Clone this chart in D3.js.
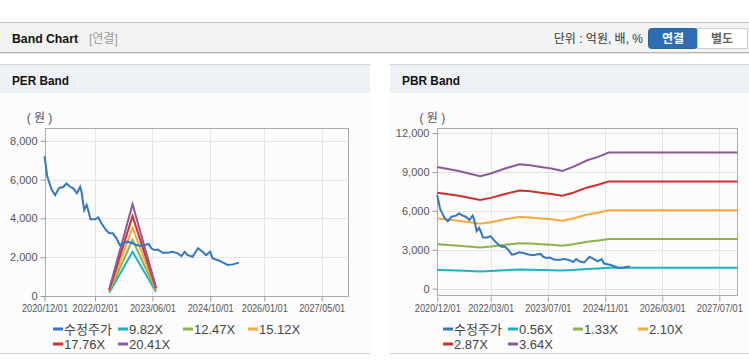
<!DOCTYPE html>
<html>
<head>
<meta charset="utf-8">
<script src="https://d3js.org/d3.v7.min.js"></script>
<style>
  body { margin: 0; background: #fff; }
  svg text { font-family: "Liberation Sans", "Noto Sans CJK KR", sans-serif; }
</style>
<title>Band Chart</title>
</head>
<body>
<script>
// price (수정주가), shared by both charts
var priceDates = ["2020-12-01","2020-12-25","2021-02-01","2021-03-01","2021-04-01","2021-05-10","2021-06-05","2021-07-05",
  "2021-08-01","2021-09-01","2021-09-28","2021-10-10","2021-11-01","2021-11-22","2021-12-05","2021-12-25","2022-02-01",
  "2022-03-01","2022-03-28","2022-05-05","2022-06-01","2022-07-01","2022-08-01","2022-08-28","2022-09-25","2022-10-28",
  "2022-12-05","2023-01-15","2023-02-28","2023-03-25","2023-05-01","2023-05-22","2023-06-20","2023-07-15","2023-08-28",
  "2023-10-10","2023-11-20","2024-01-01","2024-02-01","2024-02-28","2024-03-25","2024-05-05","2024-06-20","2024-07-28",
  "2024-08-28","2024-10-01","2024-10-22","2024-12-18","2025-02-25","2025-04-10","2025-06-01"];
var priceValues = [7210,6140,5460,5200,5550,5630,5800,5630,5550,5290,5630,5370,4430,4690,4430,3950,3950,
  4050,3740,3400,3230,3230,2970,2630,2680,2800,2750,2630,2580,2630,2680,2460,2370,2400,2230,2230,2280,
  2200,2060,2280,2110,2020,2460,2280,2110,2280,1940,1820,1600,1630,1720];

// PER band
var perDates = ["2022-06-01","2022-12-15","2023-07-01"];
var perNames = ["9.82X","12.47X","15.12X","17.76X","20.41X"];
var per982 = [167, 2278, 216];
var per1247 = [212, 2893, 274];
var per1512 = [257, 3508, 333];
var per1776 = [302, 4120, 391];
var per2041 = [347, 4735, 449];
var perYTicks = [0, 2000, 4000, 6000, 8000];
var perXTicks = ["2020/12/01","2022/02/01","2023/06/01","2024/10/01","2026/01/01","2027/05/01"];

// PBR band
var pbrDates = ["2020-12-01","2021-06-01","2021-12-01","2022-03-01","2022-07-01","2022-11-01","2023-02-01","2023-05-01",
  "2023-08-01","2023-11-01","2024-02-01","2024-06-01","2024-09-01","2024-12-01","2027-12-01"];
var pbrNames = ["0.56X","1.33X","2.10X","2.87X","3.64X"];
var pbr056 = [1444,1397,1334,1366,1425,1476,1464,1444,1425,1397,1444,1523,1562,1614,1614];
var pbr133 = [3429,3317,3168,3244,3385,3505,3477,3429,3385,3317,3429,3618,3711,3833,3833];
var pbr210 = [5414,5237,5002,5122,5345,5534,5489,5414,5345,5237,5414,5712,5859,6052,6052];
var pbr287 = [7399,7158,6836,7000,7304,7562,7502,7399,7304,7158,7399,7806,8007,8271,8271];
var pbr364 = [9384,9078,8670,8878,9264,9591,9515,9384,9264,9078,9384,9901,10156,10490,10490];
var pbrYTicks = [0, 3000, 6000, 9000, 12000];
var pbrXTicks = ["2020/12/01","2022/03/01","2023/07/01","2024/11/01","2026/03/01","2027/07/01"];

var bandColors = ["#1eb3c4", "#8cb24c", "#f3a93b", "#cf302c", "#8b5a9c"];
var priceColor = "#3677c4";

var parse = d3.timeParse("%Y-%m-%d");
var parseTick = d3.timeParse("%Y/%m/%d");

var svg = d3.select("body").append("svg")
    .attr("width", 749)
    .attr("height", 364);

// ---- page header ----
svg.append("rect").attr("x", 0).attr("y", 22).attr("width", 749).attr("height", 30).attr("fill", "#f3f3f3");
svg.append("line").attr("x1", 0).attr("x2", 749).attr("y1", 22.5).attr("y2", 22.5).attr("stroke", "#c4c4c4");
svg.append("line").attr("x1", 0).attr("x2", 749).attr("y1", 52.5).attr("y2", 52.5).attr("stroke", "#b8b8b8");
svg.append("line").attr("x1", 0).attr("x2", 749).attr("y1", 53.5).attr("y2", 53.5).attr("stroke", "#e2e2e2");
svg.append("text").attr("x", 12).attr("y", 42.5).text("Band Chart")
    .attr("font-size", "13px").attr("font-weight", "bold").attr("fill", "#111")
    .attr("textLength", 66).attr("lengthAdjust", "spacingAndGlyphs");
svg.append("text").attr("x", 89).attr("y", 42.5).text("[연결]")
    .attr("font-size", "12px").attr("fill", "#9a9a9a");
svg.append("text").attr("x", 643).attr("y", 42.5).attr("text-anchor", "end").text("단위 : 억원, 배, %")
    .attr("font-size", "12px").attr("fill", "#333");
svg.append("rect").attr("x", 648.5).attr("y", 28.5).attr("width", 49).attr("height", 20).attr("rx", 3)
    .attr("fill", "#2e6db2").attr("stroke", "#2a629f");
svg.append("rect").attr("x", 697.5).attr("y", 28.5).attr("width", 50).attr("height", 20)
    .attr("fill", "#fff").attr("stroke", "#cfcfcf");
svg.append("text").attr("x", 673).attr("y", 42.5).attr("text-anchor", "middle").text("연결")
    .attr("font-size", "12px").attr("font-weight", "bold").attr("fill", "#fff");
svg.append("text").attr("x", 722).attr("y", 42.5).attr("text-anchor", "middle").text("별도")
    .attr("font-size", "12px").attr("font-weight", "bold").attr("fill", "#666");

function panel(x0, w, title, tw) {
    svg.append("rect").attr("x", x0).attr("y", 64).attr("width", w).attr("height", 29).attr("fill", "#eef2f7");
    svg.append("rect").attr("x", x0).attr("y", 93).attr("width", w).attr("height", 260).attr("fill", "#fcfcfd");
    svg.append("line").attr("x1", x0).attr("x2", x0 + w).attr("y1", 64.5).attr("y2", 64.5).attr("stroke", "#d4d4d4");
    svg.append("line").attr("x1", x0).attr("x2", x0 + w).attr("y1", 353.5).attr("y2", 353.5).attr("stroke", "#cfcfcf");
    svg.append("text").attr("x", x0 + 12).attr("y", 84.5).text(title)
        .attr("font-size", "13px").attr("font-weight", "bold").attr("fill", "#111")
        .attr("textLength", tw).attr("lengthAdjust", "spacingAndGlyphs");
}

function chart(cfg) {
    var x = d3.scaleTime().domain(cfg.xDomain.map(parse)).range([cfg.left, cfg.right]);
    var y = d3.scaleLinear().domain(cfg.yDomain).range([cfg.bottom, cfg.top]);
    var g = svg.append("g");

    // grid
    g.selectAll(".vg").data(cfg.xTicks.map(parseTick)).enter().append("line")
        .attr("x1", function(d) { return Math.round(x(d)) + 0.5; })
        .attr("x2", function(d) { return Math.round(x(d)) + 0.5; })
        .attr("y1", cfg.top).attr("y2", cfg.bottom)
        .attr("stroke", "#e4e4e4");
    g.selectAll(".hg").data(cfg.yTicks).enter().append("line")
        .attr("x1", cfg.left).attr("x2", cfg.right)
        .attr("y1", function(d) { return Math.round(y(d)) + 0.5; })
        .attr("y2", function(d) { return Math.round(y(d)) + 0.5; })
        .attr("stroke", "#e4e4e4");

    // frame
    g.append("rect")
        .attr("x", Math.round(cfg.left) + 0.5).attr("y", Math.round(cfg.top) + 0.5)
        .attr("width", Math.round(cfg.right - cfg.left)).attr("height", Math.round(cfg.bottom - cfg.top))
        .attr("fill", "none").attr("stroke", "#ababab");

    // axes
    var ya = g.append("g").attr("transform", "translate(" + (Math.round(cfg.left) + 0.5) + ",0)")
        .call(d3.axisLeft(y).tickValues(cfg.yTicks).tickSize(5).tickPadding(3).tickFormat(d3.format(",")));
    var xa = g.append("g").attr("transform", "translate(0," + (Math.round(cfg.bottom) + 0.5) + ")")
        .call(d3.axisBottom(x).tickValues(cfg.xTicks.map(parseTick)).tickSize(5).tickPadding(3)
            .tickFormat(d3.timeFormat("%Y/%m/%d")));
    [ya, xa].forEach(function(a) {
        a.select(".domain").remove();
        a.selectAll(".tick line").attr("stroke", "#9a9a9a");
        a.selectAll("text").attr("fill", "#555").attr("font-size", "11px")
            .attr("font-family", "Liberation Sans, sans-serif");
    });
    xa.selectAll("text").attr("textLength", 46).attr("lengthAdjust", "spacingAndGlyphs");

    g.append("text").attr("x", cfg.left - 5).attr("y", 122).attr("text-anchor", "middle")
        .text("( 원 )").attr("font-size", "12px").attr("fill", "#555");

    var line = d3.line()
        .x(function(d) { return x(d[0]); })
        .y(function(d) { return y(d[1]); });

    cfg.bands.forEach(function(vals, i) {
        var pts = cfg.bandDates.map(function(d, j) { return [parse(d), vals[j]]; });
        g.append("path").datum(pts).attr("d", line)
            .attr("fill", "none").attr("stroke", bandColors[i]).attr("stroke-width", 2);
    });
    var pp = priceDates.map(function(d, j) { return [parse(d), priceValues[j]]; });
    g.append("path").datum(pp).attr("d", line)
        .attr("fill", "none").attr("stroke", priceColor).attr("stroke-width", 2);

    // legend
    var names = ["수정주가"].concat(cfg.names);
    var colors = [priceColor].concat(bandColors);
    names.forEach(function(n, i) {
        var lx = cfg.legendX + (i % 4) * 65;
        var ly = 329 + Math.floor(i / 4) * 15;
        g.append("line").attr("x1", lx).attr("x2", lx + 10).attr("y1", ly).attr("y2", ly)
            .attr("stroke", colors[i]).attr("stroke-width", 3);
        g.append("text").attr("x", lx + 11).attr("y", ly + 4.5).text(n)
            .attr("font-size", "13px").attr("fill", "#444");
    });
}

panel(0, 370, "PER Band", 57);
panel(390, 359, "PBR Band", 58);

chart({
    left: 44.5, right: 347, top: 128, bottom: 296,
    xDomain: ["2020-12-01", "2027-12-01"], yDomain: [0, 8660],
    xTicks: perXTicks, yTicks: perYTicks,
    bandDates: perDates, bands: [per982, per1247, per1512, per1776, per2041],
    names: perNames, legendX: 53
});

chart({
    left: 437.3, right: 737.3, top: 128.3, bottom: 295.7,
    xDomain: ["2020-12-01", "2027-12-01"], yDomain: [-540, 12362],
    xTicks: pbrXTicks, yTicks: pbrYTicks,
    bandDates: pbrDates, bands: [pbr056, pbr133, pbr210, pbr287, pbr364],
    names: pbrNames, legendX: 443
});
</script>
</body>
</html>
